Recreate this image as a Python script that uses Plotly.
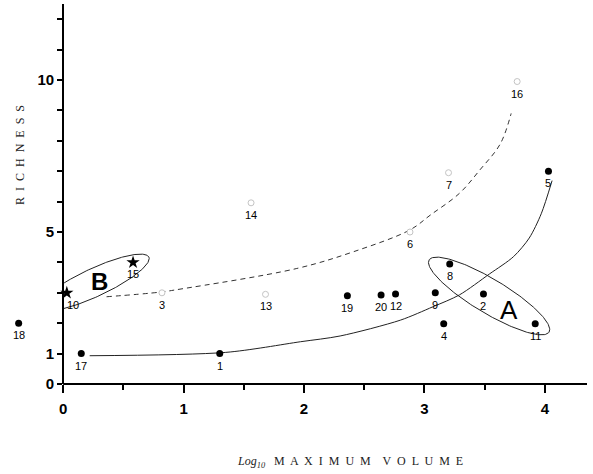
import numpy as np
import plotly.graph_objects as go

# ---- data ----
filled_labels = ['17', '1', '18', '19', '20', '12', '9', '8', '2', '4', '11', '5']
filled_x = [0.15, 1.30, -0.37, 2.36, 2.64, 2.76, 3.09, 3.21, 3.49, 3.16, 3.92, 4.03]
filled_y = [1.0, 1.0, 2.0, 2.9, 2.93, 2.96, 3.0, 3.95, 2.96, 1.98, 1.98, 7.0]

open_labels = ['3', '13', '14', '6', '7', '16']
open_x = [0.82, 1.68, 1.56, 2.88, 3.20, 3.77]
open_y = [3.0, 2.95, 5.96, 5.0, 6.95, 9.95]

star_labels = ['10', '15']
star_x = [0.03, 0.58]
star_y = [3.0, 4.0]

# hand-drawn trend curves
solid_x = [0.22, 1.35, 1.97, 2.30, 2.80, 3.07, 3.29, 3.54, 3.74, 3.87, 3.97, 4.06]
solid_y = [0.93, 1.04, 1.39, 1.58, 2.10, 2.54, 2.93, 3.62, 4.19, 4.80, 5.60, 6.69]
dash_x = [0.36, 0.80, 0.97, 1.94, 2.41, 2.88, 3.05, 3.29, 3.46, 3.63, 3.72]
dash_y = [2.87, 3.02, 3.12, 3.80, 4.35, 5.07, 5.56, 6.27, 7.04, 7.90, 8.90]

x_ticks = [0, 1, 2, 3, 4]
x_minor = [0.5, 1.5, 2.5, 3.5]
y_ticks = list(range(0, 13))
y_ticktext = ['0', '1', '', '', '', '5', '', '', '', '', '10', '', '']

# ---- layout geometry ----
ML, MR, MT, MB = 3, 6, 4, 90
W, H = 593, 474
XR = [-0.5, 4.35]
YR = [0, 12.5]
pxx = (W - ML - MR) / (XR[1] - XR[0])
pxy = (H - MT - MB) / (YR[1] - YR[0])
yaxis_pos = (0 - XR[0]) / (XR[1] - XR[0])


def ellipse(cx, cy, a_px, b_px, ang_deg, xmin=None):
    """ellipse given in screen-pixel sizes, returned in data units"""
    t = np.linspace(0, 2 * np.pi, 240)
    th = np.radians(ang_deg)
    ux, uy = np.cos(th), np.sin(th)
    vx, vy = -np.sin(th), np.cos(th)
    dx = a_px * np.cos(t) * ux + b_px * np.sin(t) * vx
    dy = a_px * np.cos(t) * uy + b_px * np.sin(t) * vy
    ex = cx + dx / pxx
    ey = cy + dy / pxy
    ex = [None if (xmin is not None and v < xmin) else v for v in ex]
    ey = [None if ex[i] is None else v for i, v in enumerate(ey)]
    return ex, ey


fig = go.Figure()

ax_, ay_ = ellipse(3.537, 2.895, 70, 17, -31)
bx_, by_ = ellipse(0.26, 3.34, 60, 14, 25, xmin=0.0)
for ex, ey in [(ax_, ay_), (bx_, by_)]:
    fig.add_trace(go.Scatter(x=ex, y=ey, mode='lines', connectgaps=False,
                             line=dict(color='#222', width=1),
                             hoverinfo='skip', showlegend=False))

fig.add_trace(go.Scatter(x=solid_x, y=solid_y, mode='lines',
                         line=dict(color='#222', width=1, shape='spline',
                                   smoothing=0.8),
                         showlegend=False))
fig.add_trace(go.Scatter(x=dash_x, y=dash_y, mode='lines',
                         line=dict(color='#333', width=1, shape='spline',
                                   dash='5px,4px'),
                         showlegend=False))

fig.add_trace(go.Scatter(x=filled_x, y=filled_y, mode='markers',
                         marker=dict(color='black', size=7),
                         cliponaxis=False, showlegend=False))
fig.add_trace(go.Scatter(x=open_x, y=open_y, mode='markers',
                         marker=dict(color='white', size=6,
                                     line=dict(color='#c4c4c4', width=1)),
                         cliponaxis=False, showlegend=False))
fig.add_trace(go.Scatter(x=star_x, y=star_y, mode='markers',
                         marker=dict(color='black', size=10, symbol='star'),
                         cliponaxis=False, showlegend=False))

xshift = {'10': 6}
annotations = []
for labs, xs, ys in [(filled_labels, filled_x, filled_y),
                     (open_labels, open_x, open_y),
                     (star_labels, star_x, star_y)]:
    for lab, x, y in zip(labs, xs, ys):
        annotations.append(dict(x=x, y=y, text=lab, showarrow=False,
                                xref='x', yref='y', yshift=-12,
                                xshift=xshift.get(lab, 0),
                                xanchor='center', yanchor='middle',
                                font=dict(family='Liberation Sans', size=11,
                                          color='#000000')))

annotations.append(dict(x=3.70, y=2.43, text='A', showarrow=False,
                        xanchor='center', yanchor='middle',
                        font=dict(family='Liberation Sans', size=26,
                                  color='black')))
annotations.append(dict(x=0.30, y=3.36, text='<b>B</b>', showarrow=False,
                        xanchor='center', yanchor='middle',
                        font=dict(family='Liberation Sans', size=24,
                                  color='black')))

annotations.append(dict(xref='paper', yref='paper', x=(20 - ML) / (W - ML - MR),
                        y=(H - MB - 155) / (H - MT - MB),
                        xanchor='center', yanchor='middle',
                        text='R  I  C  H  N  E  S  S', textangle=-90, showarrow=False,
                        font=dict(family='Liberation Serif', size=12,
                                  color='#222')))
annotations.append(dict(xref='paper', yref='paper', x=(350 - ML) / (W - ML - MR),
                        y=-(462 - (H - MB)) / (H - MT - MB),
                        xanchor='center', yanchor='middle',
                        text='<i>Log<sub>10</sub></i>   M  A  X  I  M  U  M    V  O  L  U  M  E',
                        showarrow=False,
                        font=dict(family='Liberation Serif', size=12,
                                  color='#222')))

fig.update_layout(
    width=W, height=H,
    margin=dict(l=ML, r=MR, t=MT, b=MB),
    paper_bgcolor='white', plot_bgcolor='white',
    annotations=annotations,
    shapes=[dict(type='line', xref='x', yref='paper', x0=0, x1=XR[1],
                 y0=0, y1=0, line=dict(color='black', width=2))],
    xaxis=dict(range=XR, tickvals=x_ticks, ticks='outside', ticklen=8,
               tickwidth=2, tickcolor='black', showline=False,
               showgrid=False, zeroline=False,
               ticklabelstandoff=3,
               minor=dict(tickvals=x_minor, ticks='outside', ticklen=5,
                          tickwidth=1.5, tickcolor='black'),
               tickfont=dict(family='Liberation Sans', size=15,
                             color='black', weight='bold')),
    yaxis=dict(range=YR, tickvals=y_ticks, ticktext=y_ticktext,
               anchor='free', position=yaxis_pos,
               ticks='outside', ticklen=5, tickwidth=1.5, tickcolor='black',
               showline=True, linewidth=2, linecolor='black',
               showgrid=False, zeroline=False,
               tickfont=dict(family='Liberation Sans', size=15,
                             color='black', weight='bold')),
)

fig.write_html('out.html', config={'displayModeBar': False},
               post_script="document.body.style.margin='0px';")
